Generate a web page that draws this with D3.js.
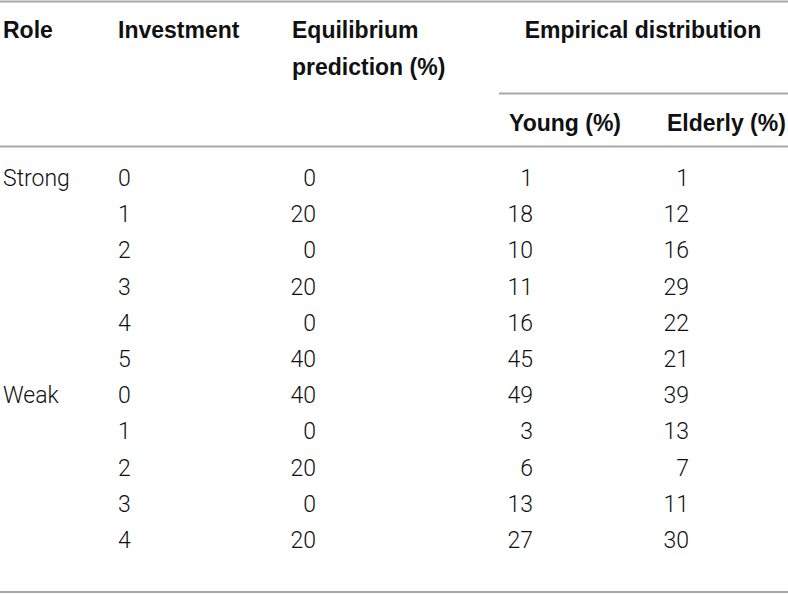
<!DOCTYPE html>
<html>
<head>
<meta charset="utf-8">
<script src="https://cdn.jsdelivr.net/npm/d3@7"></script>
<style>
  body { margin: 0; background: #fff; }
  svg { display: block; }
  .head { font-family: "Liberation Sans", Arial, sans-serif; font-weight: bold; font-size: 23px; fill: #111; }
  .cell { font-family: Roboto, "Liberation Sans", sans-serif; font-weight: 300; font-size: 23px; fill: #111; }
  .rule { stroke: #a8a8a8; stroke-width: 2; }
</style>
</head>
<body>
<div id="table"></div>
<script>
// table values
var roles = ["Strong", "Weak"];
var investStrong = [0, 1, 2, 3, 4, 5];
var investWeak = [0, 1, 2, 3, 4];
var equilibrium = [0, 20, 0, 20, 0, 40, 40, 0, 20, 0, 20];
var young = [1, 18, 10, 11, 16, 45, 49, 3, 6, 13, 27];
var elderly = [1, 12, 16, 29, 22, 21, 39, 13, 7, 11, 30];

const svgWidth = 788;
const svgHeight = 594;

// build rows from arrays
var rows = [];
investStrong.forEach(function(v, i) { rows.push({ role: i == 0 ? roles[0] : "", invest: v }); });
investWeak.forEach(function(v, i) { rows.push({ role: i == 0 ? roles[1] : "", invest: v }); });
rows.forEach(function(r, i) {
  r.eq = equilibrium[i];
  r.young = young[i];
  r.elderly = elderly[i];
  r.idx = i;
});

const svg = d3.select("#table")
  .append("svg")
  .attr("width", svgWidth)
  .attr("height", svgHeight);

// row baselines
var y = d3.scaleLinear()
  .domain([0, rows.length - 1])
  .range([186, 186 + 36.2 * (rows.length - 1)]);

// column anchors
var cols = [
  { key: "role", x: 3, anchor: "start" },
  { key: "invest", x: 118, anchor: "start" },
  { key: "eq", x: 316, anchor: "end" },
  { key: "young", x: 533, anchor: "end" },
  { key: "elderly", x: 689, anchor: "end" }
];

// rules
var rules = [
  { x1: 0, x2: 788, y: 1.5 },
  { x1: 499, x2: 788, y: 93.5 },
  { x1: 0, x2: 788, y: 146.5 },
  { x1: 0, x2: 788, y: 592 }
];
svg.selectAll(".rule")
  .data(rules).enter()
  .append("line")
  .attr("class", "rule")
  .attr("x1", d => d.x1)
  .attr("x2", d => d.x2)
  .attr("y1", d => d.y)
  .attr("y2", d => d.y);

// header
var headers = [
  { t: "Role", x: 3, y: 38, a: "start" },
  { t: "Investment", x: 118, y: 38, a: "start" },
  { t: "Equilibrium", x: 292, y: 38, a: "start" },
  { t: "prediction (%)", x: 292, y: 75, a: "start" },
  { t: "Empirical distribution", x: 643, y: 38, a: "middle" },
  { t: "Young (%)", x: 509, y: 131, a: "start" },
  { t: "Elderly (%)", x: 667, y: 131, a: "start" }
];
svg.selectAll(".head")
  .data(headers).enter()
  .append("text")
  .attr("class", "head")
  .attr("x", d => d.x)
  .attr("y", d => d.y)
  .attr("text-anchor", d => d.a)
  .text(d => d.t);

// body cells
var rowG = svg.selectAll(".row")
  .data(rows).enter()
  .append("g")
  .attr("class", "row")
  .attr("transform", d => "translate(0," + y(d.idx) + ")");

rowG.selectAll("text")
  .data(function(r) { return cols.map(c => ({ c: c, v: r[c.key] })); })
  .enter()
  .append("text")
  .attr("class", "cell")
  .attr("x", d => d.c.x)
  .attr("text-anchor", d => d.c.anchor)
  .text(d => d.v);
</script>
</body>
</html>
